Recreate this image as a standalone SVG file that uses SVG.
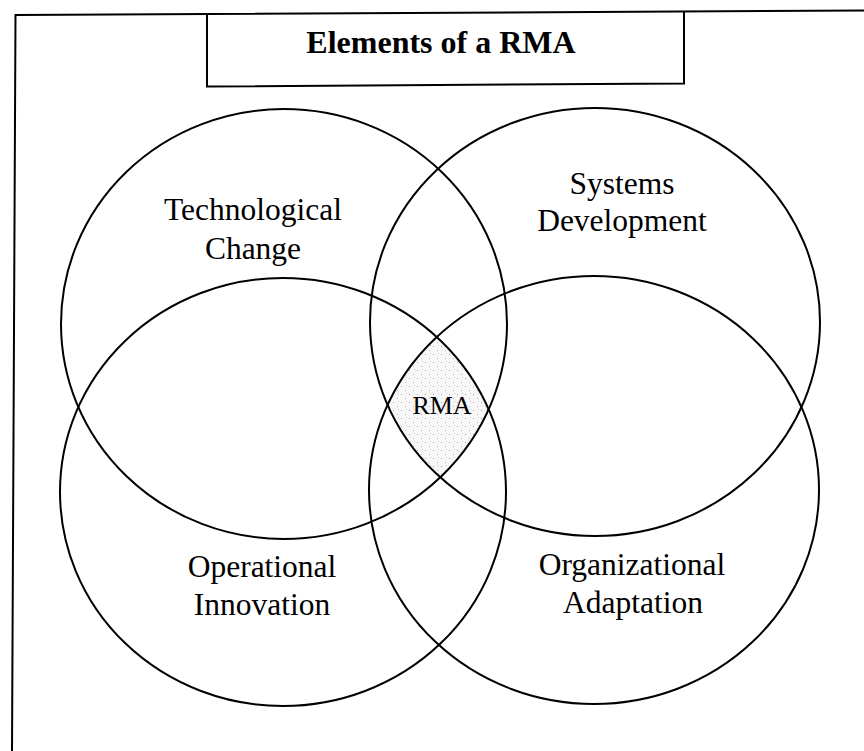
<svg xmlns="http://www.w3.org/2000/svg" width="864" height="751" viewBox="0 0 864 751">
  <style>
    .ln { fill: none; stroke: #000; stroke-width: 2; }
    .circ { fill: none; stroke: #000; stroke-width: 2; }
    .lbl { font-family: "Liberation Serif", "Times New Roman", serif; font-size: 31.5px; fill: #000; text-anchor: middle; }
    .ttl { font-family: "Liberation Serif", "Times New Roman", serif; font-size: 32px; font-weight: bold; fill: #000; text-anchor: middle; }
    .rma { font-family: "Liberation Serif", "Times New Roman", serif; font-size: 26px; fill: #000; text-anchor: middle; }
  </style>
  <defs>
    <pattern id="stipple" width="8" height="8" patternUnits="userSpaceOnUse">
      <rect width="8" height="8" fill="#f7f7f7"/>
      <rect x="1" y="2" width="1" height="1" fill="#a8a8a8"/>
      <rect x="5" y="6" width="1" height="1" fill="#bdbdbd"/>
      <rect x="6" y="1" width="1" height="1" fill="#d0d0d0"/>
    </pattern>
    <clipPath id="cTL"><ellipse cx="284" cy="324" rx="223" ry="215"/></clipPath>
    <clipPath id="cTR"><ellipse cx="595" cy="322" rx="225" ry="214"/></clipPath>
    <clipPath id="cBL"><ellipse cx="283" cy="492" rx="223" ry="214"/></clipPath>
    <clipPath id="cBR"><ellipse cx="594" cy="490" rx="225" ry="214"/></clipPath>
  </defs>
  <rect width="864" height="751" fill="#fff"/>

  <g id="frame">
    <path class="ln" d="M864,10.5 L15.5,15 L12,751"/>
  </g>

  <g id="title">
    <path class="ln" d="M207,14 L207,86.5 L684,83.5 L684,12"/>
    <text class="ttl" x="441" y="53">Elements of a RMA</text>
  </g>

  <g id="rma-region">
    <g clip-path="url(#cTL)"><g clip-path="url(#cTR)"><g clip-path="url(#cBL)">
      <rect x="360" y="320" width="160" height="180" fill="url(#stipple)" clip-path="url(#cBR)"/>
    </g></g></g>
  </g>

  <g id="technological-change">
    <ellipse class="circ" cx="284" cy="324" rx="223" ry="215"/>
    <text class="lbl" x="253" y="220">Technological</text>
    <text class="lbl" x="253" y="258.5">Change</text>
  </g>

  <g id="systems-development">
    <ellipse class="circ" cx="595" cy="322" rx="225" ry="214"/>
    <text class="lbl" x="622" y="194">Systems</text>
    <text class="lbl" x="622" y="231">Development</text>
  </g>

  <g id="operational-innovation">
    <ellipse class="circ" cx="283" cy="492" rx="223" ry="214"/>
    <text class="lbl" x="262" y="577">Operational</text>
    <text class="lbl" x="262" y="615">Innovation</text>
  </g>

  <g id="organizational-adaptation">
    <ellipse class="circ" cx="594" cy="490" rx="225" ry="214"/>
    <text class="lbl" x="632" y="575">Organizational</text>
    <text class="lbl" x="633" y="613">Adaptation</text>
  </g>

  <g id="rma">
    <text class="rma" x="442" y="414">RMA</text>
  </g>
</svg>
